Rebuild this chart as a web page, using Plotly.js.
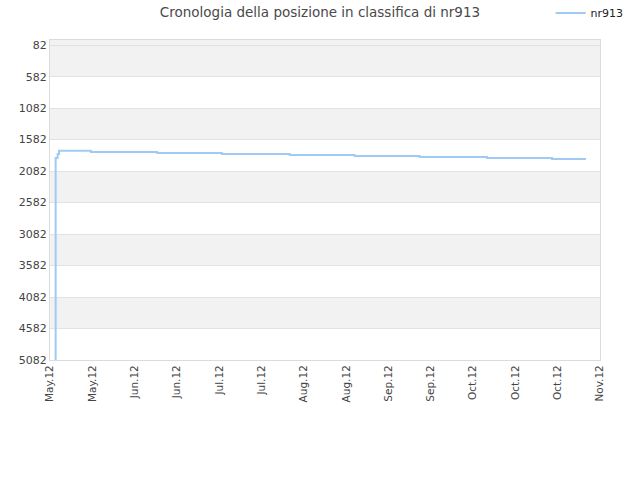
<!DOCTYPE html>
<html>
<head>
<meta charset="utf-8">
<script src="https://cdn.plot.ly/plotly-3.0.1.min.js"></script>
<style>
  body { margin: 0; background: #fff; }
  #chart { width: 640px; height: 480px; }
</style>
</head>
<body>
<div id="chart"></div>
<script>
// days since the first tick (4 May 2012) and rank on those days
const days = [2, 2, 2.7, 3.2, 14.5, 38, 61, 85, 108, 131, 155, 178, 190];
const ranks = [5400, 1875, 1812, 1759, 1780, 1796, 1812, 1828, 1844, 1860, 1875, 1891, 1891];

const tickDays = [0, 15, 30, 45, 60, 75, 90, 105, 120, 135, 150, 165, 180, 195];
const tickLabels = ["May.12", "May.12", "Jun.12", "Jun.12", "Jul.12", "Jul.12", "Aug.12", "Aug.12",
  "Sep.12", "Sep.12", "Oct.12", "Oct.12", "Oct.12", "Nov.12"];
const rankTicks = [82, 582, 1082, 1582, 2082, 2582, 3082, 3582, 4082, 4582, 5082];

const yTop = 0, yBottom = 5082;

// grey bands on every other step of the rank axis
const shapes = [];
for (let i = 0; i < rankTicks.length - 1; i += 2) {
  shapes.push({
    type: 'rect', xref: 'paper', yref: 'y', layer: 'below',
    x0: 0, x1: 1,
    y0: i == 0 ? yTop : rankTicks[i], y1: rankTicks[i + 1],
    fillcolor: '#f2f2f2', line: { width: 0 }
  });
}

const data = [{
  x: days,
  y: ranks,
  name: 'nr913',
  type: 'scatter',
  mode: 'lines',
  line: { color: '#9ecaf4', width: 2, shape: 'hv' }
}];

const layout = {
  width: 640, height: 480,
  margin: { l: 50, r: 40, t: 40, b: 120, autoexpand: false },
  font: { family: 'DejaVu Sans, sans-serif', size: 11, color: '#444' },
  title: { text: 'Cronologia della posizione in classifica di nr913', font: { size: 13.5, color: '#4a4a4a' }, x: 0.5, y: 0.975, yanchor: 'middle' },
  showlegend: true,
  legend: { x: 1.052, xanchor: 'right', y: 1.084, yanchor: 'middle', itemwidth: 30, font: { size: 11, color: '#222' }, bgcolor: 'rgba(0,0,0,0)' },
  paper_bgcolor: '#fff', plot_bgcolor: '#fff',
  xaxis: {
    range: [0, 195], tickmode: 'array', tickvals: tickDays, ticktext: tickLabels,
    tickangle: -90, showgrid: false, zeroline: false,
    showline: true, linecolor: '#dcdcdc', mirror: true, ticks: '',
    tickfont: { size: 10.5, color: '#444' }
  },
  yaxis: {
    range: [yBottom, yTop], tickmode: 'array', tickvals: rankTicks,
    showgrid: true, gridcolor: '#e2e2e2', zeroline: false,
    showline: true, linecolor: '#dcdcdc', mirror: true, ticks: '',
    tickfont: { size: 11, color: '#444' }
  },
  shapes: shapes
};

Plotly.newPlot('chart', data, layout, { displayModeBar: false });
</script>
</body>
</html>
